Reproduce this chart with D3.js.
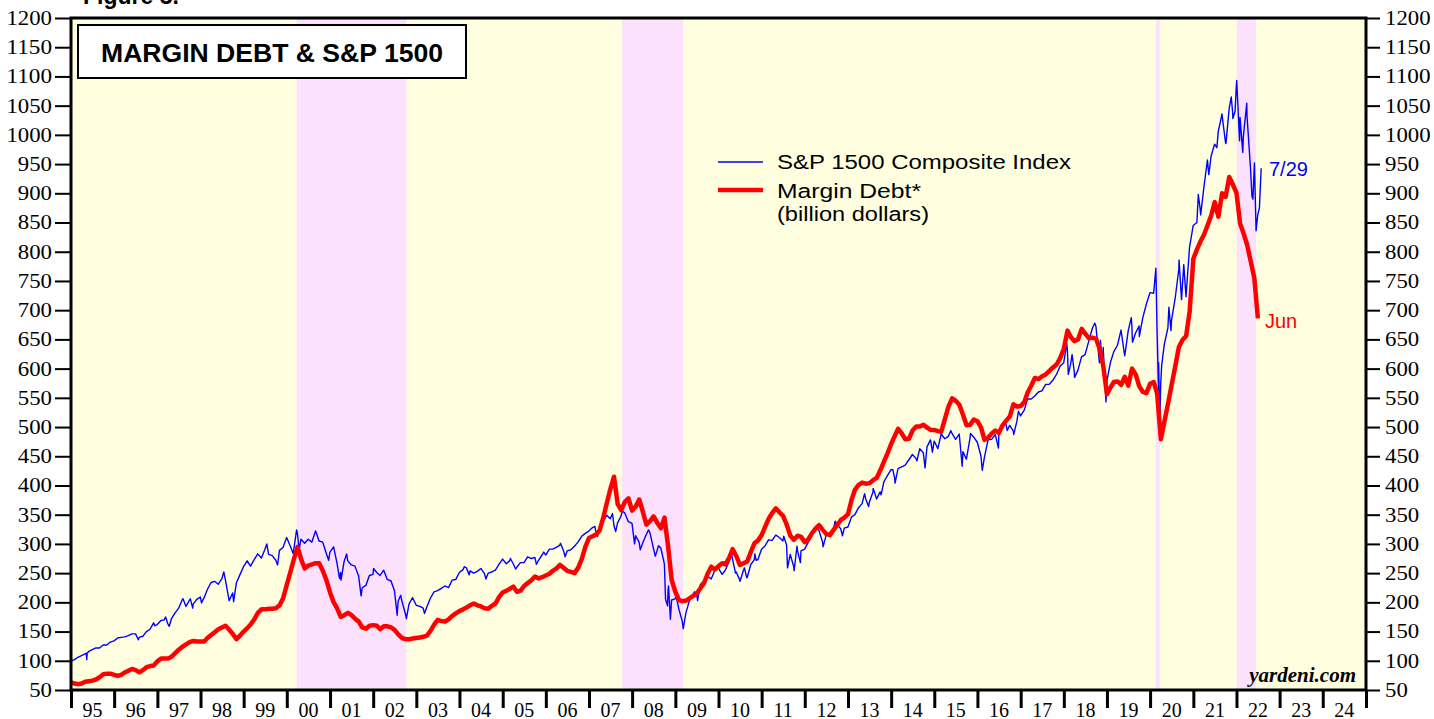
<!DOCTYPE html>
<meta charset="utf-8">
<style>

body {
    margin: 0;
    padding: 0;
    background: #fff;
    overflow: hidden;
}

svg {
    display: block;
}

.axis text {
    font-family: "Liberation Serif", "Times New Roman", serif;
    font-size: 20px;
    fill: #000;
}

.axis line {
    stroke: #000;
}

.sans {
    font-family: "Liberation Sans", Arial, sans-serif;
}

</style>
<svg width="1434" height="719"></svg>

<script src="https://cdnjs.cloudflare.com/ajax/libs/d3/7.8.5/d3.min.js"></script>

<script>
// Bear market periods (pink bands)
var bearStarts = ["2000-03-24", "2007-10-09", "2020-02-19", "2022-01-03"];
var bearEnds   = ["2002-10-09", "2009-03-09", "2020-03-23", "2022-06-16"];

// Margin debt, billion dollars, month-end values starting Dec 1994
var marginStart = "1994-12";
var marginDebt = [
    63,
    61, 60, 61, 64, 65, 66, 68, 72, 77, 78, 78, 76,             // 1995
    74, 76, 80, 83, 86, 84, 80, 84, 89, 91, 92, 99,             // 1996
    104, 104, 104, 107, 113, 119, 124, 128, 132, 134, 133, 133, // 1997
    133, 139, 144, 149, 154, 157, 160, 153, 146, 137, 143, 150, // 1998
    156, 162, 171, 182, 188, 188, 189, 189, 190, 195, 207, 230, // 1999
    252, 274, 295, 274, 258, 263, 265, 267, 267, 254, 238, 217, // 2000
    200, 190, 175, 178, 182, 178, 172, 167, 157, 155, 160, 161, // 2001
    160, 154, 159, 159, 157, 153, 145, 139, 137, 137, 138, 139, // 2002
    140, 141, 143, 151, 162, 170, 168, 167, 171, 177, 181, 185, // 2003
    188, 191, 195, 198, 195, 193, 190, 189, 194, 198, 209, 217, // 2004
    220, 223, 227, 218, 220, 228, 233, 238, 244, 241, 243, 246, // 2005
    249, 254, 258, 264, 259, 254, 252, 250, 259, 274, 295, 310, // 2006
    313, 316, 323, 344, 370, 394, 415, 368, 358, 372, 378, 357, // 2007
    364, 376, 355, 333, 339, 347, 336, 327, 345, 295, 238, 218, // 2008
    204, 202, 203, 207, 211, 215, 224, 233, 249, 261, 256, 262, // 2009
    267, 265, 276, 291, 279, 264, 267, 270, 286, 301, 306, 315, // 2010
    330, 343, 353, 361, 354, 348, 333, 314, 307, 314, 312, 303, // 2011
    308, 318, 326, 332, 324, 317, 315, 324, 332, 341, 345, 351, // 2012
    376, 393, 401, 405, 403, 404, 409, 413, 426, 441, 455, 471, // 2013
    485, 497, 489, 479, 480, 494, 501, 501, 504, 499, 495, 495, // 2014
    493, 492, 514, 535, 549, 545, 538, 521, 503, 504, 513, 510, // 2015
    499, 478, 482, 489, 494, 490, 503, 511, 518, 539, 535, 536, // 2016
    543, 559, 571, 584, 582, 587, 590, 596, 602, 607, 618, 634, // 2017
    665, 654, 647, 650, 668, 660, 652, 653, 651, 633, 604, 556, // 2018
    568, 577, 578, 572, 586, 571, 600, 590, 570, 560, 558, 574, // 2019
    577, 557, 479, 509, 540, 572, 604, 637, 649, 656, 698, 788, // 2020
    804, 817, 829, 845, 862, 885, 860, 900, 894, 928, 915, 901, // 2021
    848, 832, 812, 784, 755, 686                                // 2022
];

// S&P 1500 Composite Index: month-end levels starting Jan 1995 ...
var spxStart = "1995-01";
var spxMonthEnd = [
    102, 106, 109, 112, 116, 119, 122, 122, 127, 127, 132, 134,             // 1995
    139, 140, 141, 143, 146, 146, 140, 142, 150, 154, 165, 162,             // 1996
    169, 170, 163, 172, 182, 190, 205, 193, 204, 197, 205, 209,             // 1997
    208, 222, 234, 236, 231, 240, 238, 203, 216, 233, 247, 261,             // 1998
    271, 262, 273, 283, 276, 291, 282, 280, 272, 289, 294, 311,             // 1999
    296, 290, 318, 308, 301, 308, 303, 322, 305, 303, 284, 286,             // 2000
    295, 268, 251, 270, 271, 264, 262, 245, 225, 229, 246, 248,             // 2001
    251, 246, 255, 239, 237, 220, 202, 203, 181, 197, 208, 195,             // 2002
    193, 190, 192, 207, 218, 220, 224, 228, 225, 238, 239, 251,             // 2003
    256, 259, 254, 250, 253, 258, 249, 250, 252, 255, 265, 274,             // 2004
    266, 271, 266, 260, 268, 268, 278, 275, 277, 272, 281, 281,             // 2005
    291, 291, 294, 298, 288, 288, 290, 296, 303, 313, 318, 322,             // 2006
    328, 321, 324, 338, 349, 343, 332, 336, 348, 353, 338, 335,             // 2007
    314, 303, 302, 316, 319, 292, 289, 293, 266, 221, 204, 206,             // 2008
    188, 168, 182, 203, 214, 214, 230, 237, 245, 240, 254, 259,             // 2009
    248, 255, 270, 274, 252, 238, 255, 242, 264, 273, 273, 291,             // 2010
    297, 307, 306, 315, 311, 305, 298, 282, 261, 289, 288, 291,             // 2011
    303, 316, 325, 323, 303, 315, 319, 325, 333, 326, 327, 329,             // 2012
    346, 350, 362, 369, 377, 371, 389, 377, 389, 406, 417, 427,             // 2013
    412, 429, 432, 435, 444, 453, 446, 463, 456, 466, 478, 476,             // 2014
    463, 488, 480, 484, 489, 479, 488, 458, 445, 482, 483, 474,             // 2015
    450, 448, 478, 479, 487, 487, 504, 504, 503, 493, 510, 519,             // 2016
    529, 548, 548, 553, 560, 562, 573, 573, 580, 590, 604, 610,             // 2017
    632, 608, 594, 597, 620, 624, 647, 669, 672, 626, 636, 578,             // 2018
    611, 629, 640, 666, 622, 665, 673, 661, 673, 687, 710, 730,             // 2019
    729, 665, 574, 641, 670, 682, 720, 770, 740, 723, 808, 845,             // 2020
    850, 873, 910, 957, 963, 984, 1006, 1036, 987, 1045, 1037, 1085,        // 2021
    1030, 997, 1033, 942, 942, 863                                          // 2022
];

// ... plus the highs and lows in between, and the last reading (7/29)
var spxDates = [
    "1995-01-03", "1995-05-10", "1995-05-14", "1995-05-18", "1996-07-24", "1996-12-10",
    "1997-03-11", "1997-04-11", "1997-08-06", "1997-10-07", "1997-10-27",
    "1998-01-09", "1998-07-17", "1998-10-08", "1999-07-16", "1999-10-15",
    "2000-02-25", "2000-03-24", "2000-04-14", "2000-09-01", "2000-12-20",
    "2001-03-22", "2001-04-04", "2001-05-21", "2001-09-21",
    "2002-01-04", "2002-07-23", "2002-08-22", "2002-10-09", "2002-11-27", "2003-03-11",
    "2004-02-11", "2004-03-24", "2004-08-12", "2005-03-07", "2005-04-20", "2005-10-13", "2005-12-14",
    "2006-05-05", "2006-06-13", "2007-02-20", "2007-03-14", "2007-07-19", "2007-08-15", "2007-10-09",
    "2008-01-22", "2008-03-10", "2008-05-19", "2008-07-15", "2008-08-11", "2008-10-10", "2008-10-27", "2008-11-04", "2008-11-20",
    "2009-01-06", "2009-03-09", "2009-06-12", "2009-07-08",
    "2010-04-23", "2010-05-25", "2010-07-02", "2010-08-09", "2010-08-26", "2010-11-05", "2010-11-16",
    "2011-05-02", "2011-07-07", "2011-08-08", "2011-10-03", "2011-10-27", "2011-11-25",
    "2012-04-02", "2012-06-04", "2012-09-14", "2012-11-15",
    "2013-05-21", "2013-06-24", "2013-08-02", "2013-10-08",
    "2014-01-15", "2014-02-03", "2014-08-07", "2014-10-15", "2014-12-05", "2014-12-16",
    "2015-05-21", "2015-08-25", "2015-11-03",
    "2016-02-11", "2016-06-27", "2016-08-15", "2016-09-09", "2016-11-03", "2016-12-13",
    "2018-01-26", "2018-02-08", "2018-03-12", "2018-04-02", "2018-09-20", "2018-10-29", "2018-11-07", "2018-11-23", "2018-12-24",
    "2019-06-03", "2019-07-26", "2019-08-05", "2019-10-02",
    "2020-02-19", "2020-03-12", "2020-03-13", "2020-03-23", "2020-04-08", "2020-06-08", "2020-06-26", "2020-09-02", "2020-09-23", "2020-10-12",
    "2021-02-12", "2021-03-04", "2021-05-12", "2021-06-15", "2021-07-19", "2021-08-27", "2021-10-04", "2021-11-18", "2021-12-01", "2021-12-20",
    "2022-01-03", "2022-01-27", "2022-02-23", "2022-03-29", "2022-05-12", "2022-05-20", "2022-06-02", "2022-06-16", "2022-07-14", "2022-07-29"
];
var spxValues = [
    100, 113, 102, 113, 136, 160,
    175, 159, 206, 206, 190,
    199, 252, 201, 300, 264,
    283, 324, 290, 322, 272,
    241, 238, 283, 211,
    258, 178, 212, 172, 207, 181,
    261, 247, 240, 275, 257, 265, 286,
    301, 278, 330, 313, 352, 321, 356,
    300, 290, 324, 279, 297, 205, 194, 228, 171,
    212, 155, 218, 203,
    281, 250, 236, 259, 243, 283, 272,
    315, 313, 259, 254, 296, 268,
    328, 295, 339, 314,
    386, 364, 395, 384,
    427, 404, 442, 430, 472, 457,
    494, 433, 489,
    426, 464, 508, 494, 487, 527,
    643, 590, 624, 585, 678, 610, 648, 606, 543,
    625, 687, 645, 655,
    772, 565, 610, 506, 605, 705, 665, 786, 718, 778,
    898, 863, 932, 974, 978, 1031, 985, 1065, 1028, 1040,
    1093, 990, 970, 1054, 895, 890, 952, 836, 875, 943
];

// Axis labels
var yTicks = [50, 100, 150, 200, 250, 300, 350, 400, 450, 500, 550, 600, 650, 700, 750, 800, 850, 900, 950, 1000, 1050, 1100, 1150, 1200];
var yearLabels = ["95", "96", "97", "98", "99", "00", "01", "02", "03", "04", "05", "06", "07", "08", "09",
                  "10", "11", "12", "13", "14", "15", "16", "17", "18", "19", "20", "21", "22", "23", "24"];

var svg = d3.select("svg");
var plotLeft = 71, plotRight = 1366, plotTop = 18, plotBottom = 690; // plot frame in pixels

var parseDay = d3.timeParse("%Y-%m-%d");
var parseMonth = d3.timeParse("%Y-%m");

var x = d3.scaleTime()
    .domain([new Date(1995, 0, 1), new Date(2025, 0, 1)])
    .range([plotLeft, plotRight]);

var y = d3.scaleLinear()
    .domain([50, 1200])
    .range([plotBottom, plotTop]);

// "Figure 3." header, mostly cut off at the top of the page
svg.append("text")
    .attr("class", "sans")
    .attr("x", 83)
    .attr("y", 4)
    .attr("font-size", 23)
    .attr("font-weight", "bold")
    .text("Figure 3.");

// Plot background
svg.append("rect")
    .attr("x", plotLeft)
    .attr("y", plotTop)
    .attr("width", plotRight - plotLeft)
    .attr("height", plotBottom - plotTop)
    .attr("fill", "#ffffe0");

// Bear market bands
svg.selectAll(".bear")
    .data(bearStarts)
    .enter().append("rect")
      .attr("class", "bear")
      .attr("x", function(d) { return x(parseDay(d)); })
      .attr("y", plotTop)
      .attr("width", function(d, i) { return x(parseDay(bearEnds[i])) - x(parseDay(d)); })
      .attr("height", plotBottom - plotTop)
      .attr("fill", "#fbe1fb");

// Lines
var marginData = marginDebt.map(function(v, i) {
    return {date: d3.timeMonth.offset(parseMonth(marginStart), i + 1), value: v}; // month-end
});

// month-end closes and in-between readings, merged in date order
var spxData = spxMonthEnd.map(function(v, i) {
        return {date: d3.timeDay.offset(d3.timeMonth.offset(parseMonth(spxStart), i + 1), -1), value: v};
    })
    .concat(spxDates.map(function(d, i) { return {date: parseDay(d), value: spxValues[i]}; }))
    .sort(function(a, b) { return a.date - b.date; });

var line = d3.line()
    .x(function(d) { return x(d.date); })
    .y(function(d) { return y(d.value); });

svg.append("path")
    .datum(spxData)
    .attr("fill", "none")
    .attr("stroke", "#0000ff")
    .attr("stroke-width", 1.4)
    .attr("stroke-linejoin", "round")
    .attr("d", line);

svg.append("path")
    .datum(marginData)
    .attr("fill", "none")
    .attr("stroke", "#ff0000")
    .attr("stroke-width", 4.5)
    .attr("stroke-linejoin", "round")
    .attr("d", line);

// Frame
svg.append("rect")
    .attr("x", plotLeft)
    .attr("y", plotTop)
    .attr("width", plotRight - plotLeft)
    .attr("height", plotBottom - plotTop)
    .attr("fill", "none")
    .attr("stroke", "#000")
    .attr("stroke-width", 3);

// Y axes on both sides (labels are drawn a little wide, like the original)
function widen(g) {
    g.select(".domain").remove();
    g.selectAll("line").attr("stroke-width", 2);
    g.selectAll("text")
        .attr("textLength", function(d) { return String(d).length * 11.4; })
        .attr("lengthAdjust", "spacingAndGlyphs");
}

svg.append("g")
    .attr("class", "axis")
    .attr("transform", "translate(" + plotLeft + ",0)")
    .call(d3.axisLeft(y).tickValues(yTicks).tickFormat(d3.format("d")).tickSize(16).tickPadding(3))
    .call(widen);

svg.append("g")
    .attr("class", "axis")
    .attr("transform", "translate(" + plotRight + ",0)")
    .call(d3.axisRight(y).tickValues(yTicks).tickFormat(d3.format("d")).tickSize(14).tickPadding(5))
    .call(widen);

// X axis: ticks at year boundaries, labels centered in each year
var yearStarts = d3.range(1995, 2026).map(function(yr) { return new Date(yr, 0, 1); });
svg.append("g")
    .attr("class", "axis")
    .attr("transform", "translate(0," + plotBottom + ")")
    .call(d3.axisBottom(x).tickValues(yearStarts).tickSize(18).tickFormat(""))
    .call(function(g) { g.select(".domain").remove(); })
    .call(function(g) { g.selectAll("line").attr("stroke-width", 3); });

svg.append("g")
    .attr("class", "axis")
    .selectAll("text")
    .data(yearLabels)
    .enter().append("text")
      .attr("x", function(d, i) { return (x(yearStarts[i]) + x(yearStarts[i + 1])) / 2; })
      .attr("y", 717)
      .attr("text-anchor", "middle")
      .text(function(d) { return d; });

// Title box
svg.append("rect")
    .attr("x", 78)
    .attr("y", 25)
    .attr("width", 388)
    .attr("height", 53)
    .attr("fill", "#fff")
    .attr("stroke", "#000")
    .attr("stroke-width", 2);

svg.append("text")
    .attr("class", "sans")
    .attr("x", 101)
    .attr("y", 62)
    .attr("font-size", 25)
    .attr("font-weight", "bold")
    .attr("textLength", 342)
    .attr("lengthAdjust", "spacingAndGlyphs")
    .text("MARGIN DEBT & S&P 1500");

// Legend
var legend = svg.append("g").attr("class", "sans").attr("font-size", 20);

legend.append("line")
    .attr("x1", 718).attr("x2", 763)
    .attr("y1", 162).attr("y2", 162)
    .attr("stroke", "#0000ff")
    .attr("stroke-width", 1.4);

legend.append("line")
    .attr("x1", 718).attr("x2", 763)
    .attr("y1", 190).attr("y2", 190)
    .attr("stroke", "#ff0000")
    .attr("stroke-width", 4.5);

var legendText = ["S&P 1500 Composite Index", "Margin Debt*", "(billion dollars)"];
var legendWidth = [294, 144, 152];
var legendBase = [169, 198, 221];
legend.selectAll("text")
    .data(legendText)
    .enter().append("text")
      .attr("x", 777)
      .attr("y", function(d, i) { return legendBase[i]; })
      .attr("textLength", function(d, i) { return legendWidth[i]; })
      .attr("lengthAdjust", "spacingAndGlyphs")
      .text(function(d) { return d; });

// End labels
svg.append("text")
    .attr("class", "sans")
    .attr("x", 1269)
    .attr("y", 176)
    .attr("font-size", 20)
    .attr("fill", "#0000ff")
    .text("7/29");

svg.append("text")
    .attr("class", "sans")
    .attr("x", 1265)
    .attr("y", 328)
    .attr("font-size", 20)
    .attr("fill", "#ff0000")
    .text("Jun");

// Source
svg.append("text")
    .attr("x", 1356)
    .attr("y", 682)
    .attr("text-anchor", "end")
    .attr("font-family", "'Liberation Serif', 'Times New Roman', serif")
    .attr("font-size", 21)
    .attr("font-weight", "bold")
    .attr("font-style", "italic")
    .text("yardeni.com");
</script>
